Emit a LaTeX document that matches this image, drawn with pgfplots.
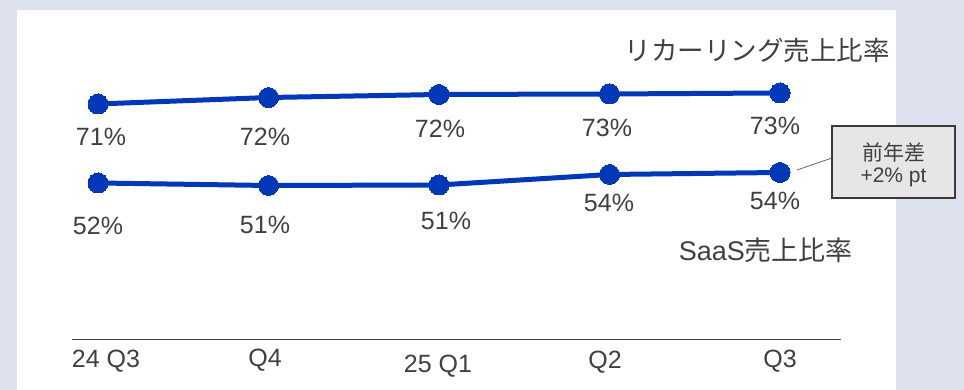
\documentclass[border=0pt]{standalone}
\usepackage{pgfplots}
\pgfplotsset{compat=1.18}
\usepackage{fontspec}
\setmainfont{Liberation Sans}
\newfontfamily\jp{Noto Sans CJK JP}
\definecolor{lav}{HTML}{DEE2EE}
\definecolor{txt}{HTML}{404040}
\definecolor{blu}{RGB}{0,56,184}
\definecolor{boxg}{HTML}{E6E6E6}
\definecolor{boxb}{HTML}{3A3A3A}
\begin{document}
\begin{tikzpicture}[x=1pt,y=1pt]
\fill[lav] (0,0) rectangle (964,390);
\fill[white] (17,0) rectangle (896,380);
% x axis line
\draw[txt, line width=1.6pt] (72,50.5) -- (841,50.5);
\begin{axis}[at={(0,0)}, anchor=south west, scale only axis,
  width=964pt, height=390pt,
  xmin=-0.5748, xmax=5.0792, ymin=2.381, ymax=95.238,
  hide axis, clip=false]
% recurring revenue ratio
\addplot[blu, line width=5pt, mark=*, mark size=10pt,
  mark options={fill=blu, draw=blu, line width=0pt}] coordinates {
  (0,70.48) (1,72.02) (2,72.74) (3,72.86) (4,73.10)};
% SaaS revenue ratio
\addplot[blu, line width=5pt, mark=*, mark size=10pt,
  mark options={fill=blu, draw=blu, line width=0pt}] coordinates {
  (0,51.67) (1,51.07) (2,51.19) (3,53.69) (4,54.17)};
\end{axis}
\begin{scope}[every node/.style={text=txt, inner sep=0pt, font=\fontsize{25}{30}\selectfont}]
% value labels, row 1
\node at (101,253) {71\%};
\node at (265,253) {72\%};
\node at (440,261) {72\%};
\node at (607,262) {73\%};
\node at (775,264) {73\%};
% value labels, row 2
\node at (98,164) {52\%};
\node at (265,165) {51\%};
\node at (446,169) {51\%};
\node at (609,187) {54\%};
\node at (775,189) {54\%};
% categories
\node at (106,29) {24 Q3};
\node at (265,30) {Q4};
\node at (438,24) {25 Q1};
\node at (605,28) {Q2};
\node at (780,29) {Q3};
\end{scope}
% series titles
\node[text=txt, inner sep=0pt, anchor=east, font=\fontsize{26.5}{30}\selectfont\jp] at (890,340) {リカーリング売上比率};
\node[text=txt, inner sep=0pt, anchor=east, font=\fontsize{27}{30}\selectfont] at (853,140) {SaaS{\jp 売上比率}};
% annotation
\draw[gray!80!black, line width=0.8pt] (797,220) -- (832,232);
\draw[boxb, fill=boxg, line width=1.5pt] (832,192) rectangle (955,264);
\node[text=txt, inner sep=0pt, font=\fontsize{21}{25}\selectfont\jp] at (893.5,238) {前年差};
\node[text=txt, inner sep=0pt, font=\fontsize{21}{25}\selectfont] at (893.5,213) {+2\% pt};
\pgfresetboundingbox
\path (0,0) rectangle (964,390);
\end{tikzpicture}
\end{document}
